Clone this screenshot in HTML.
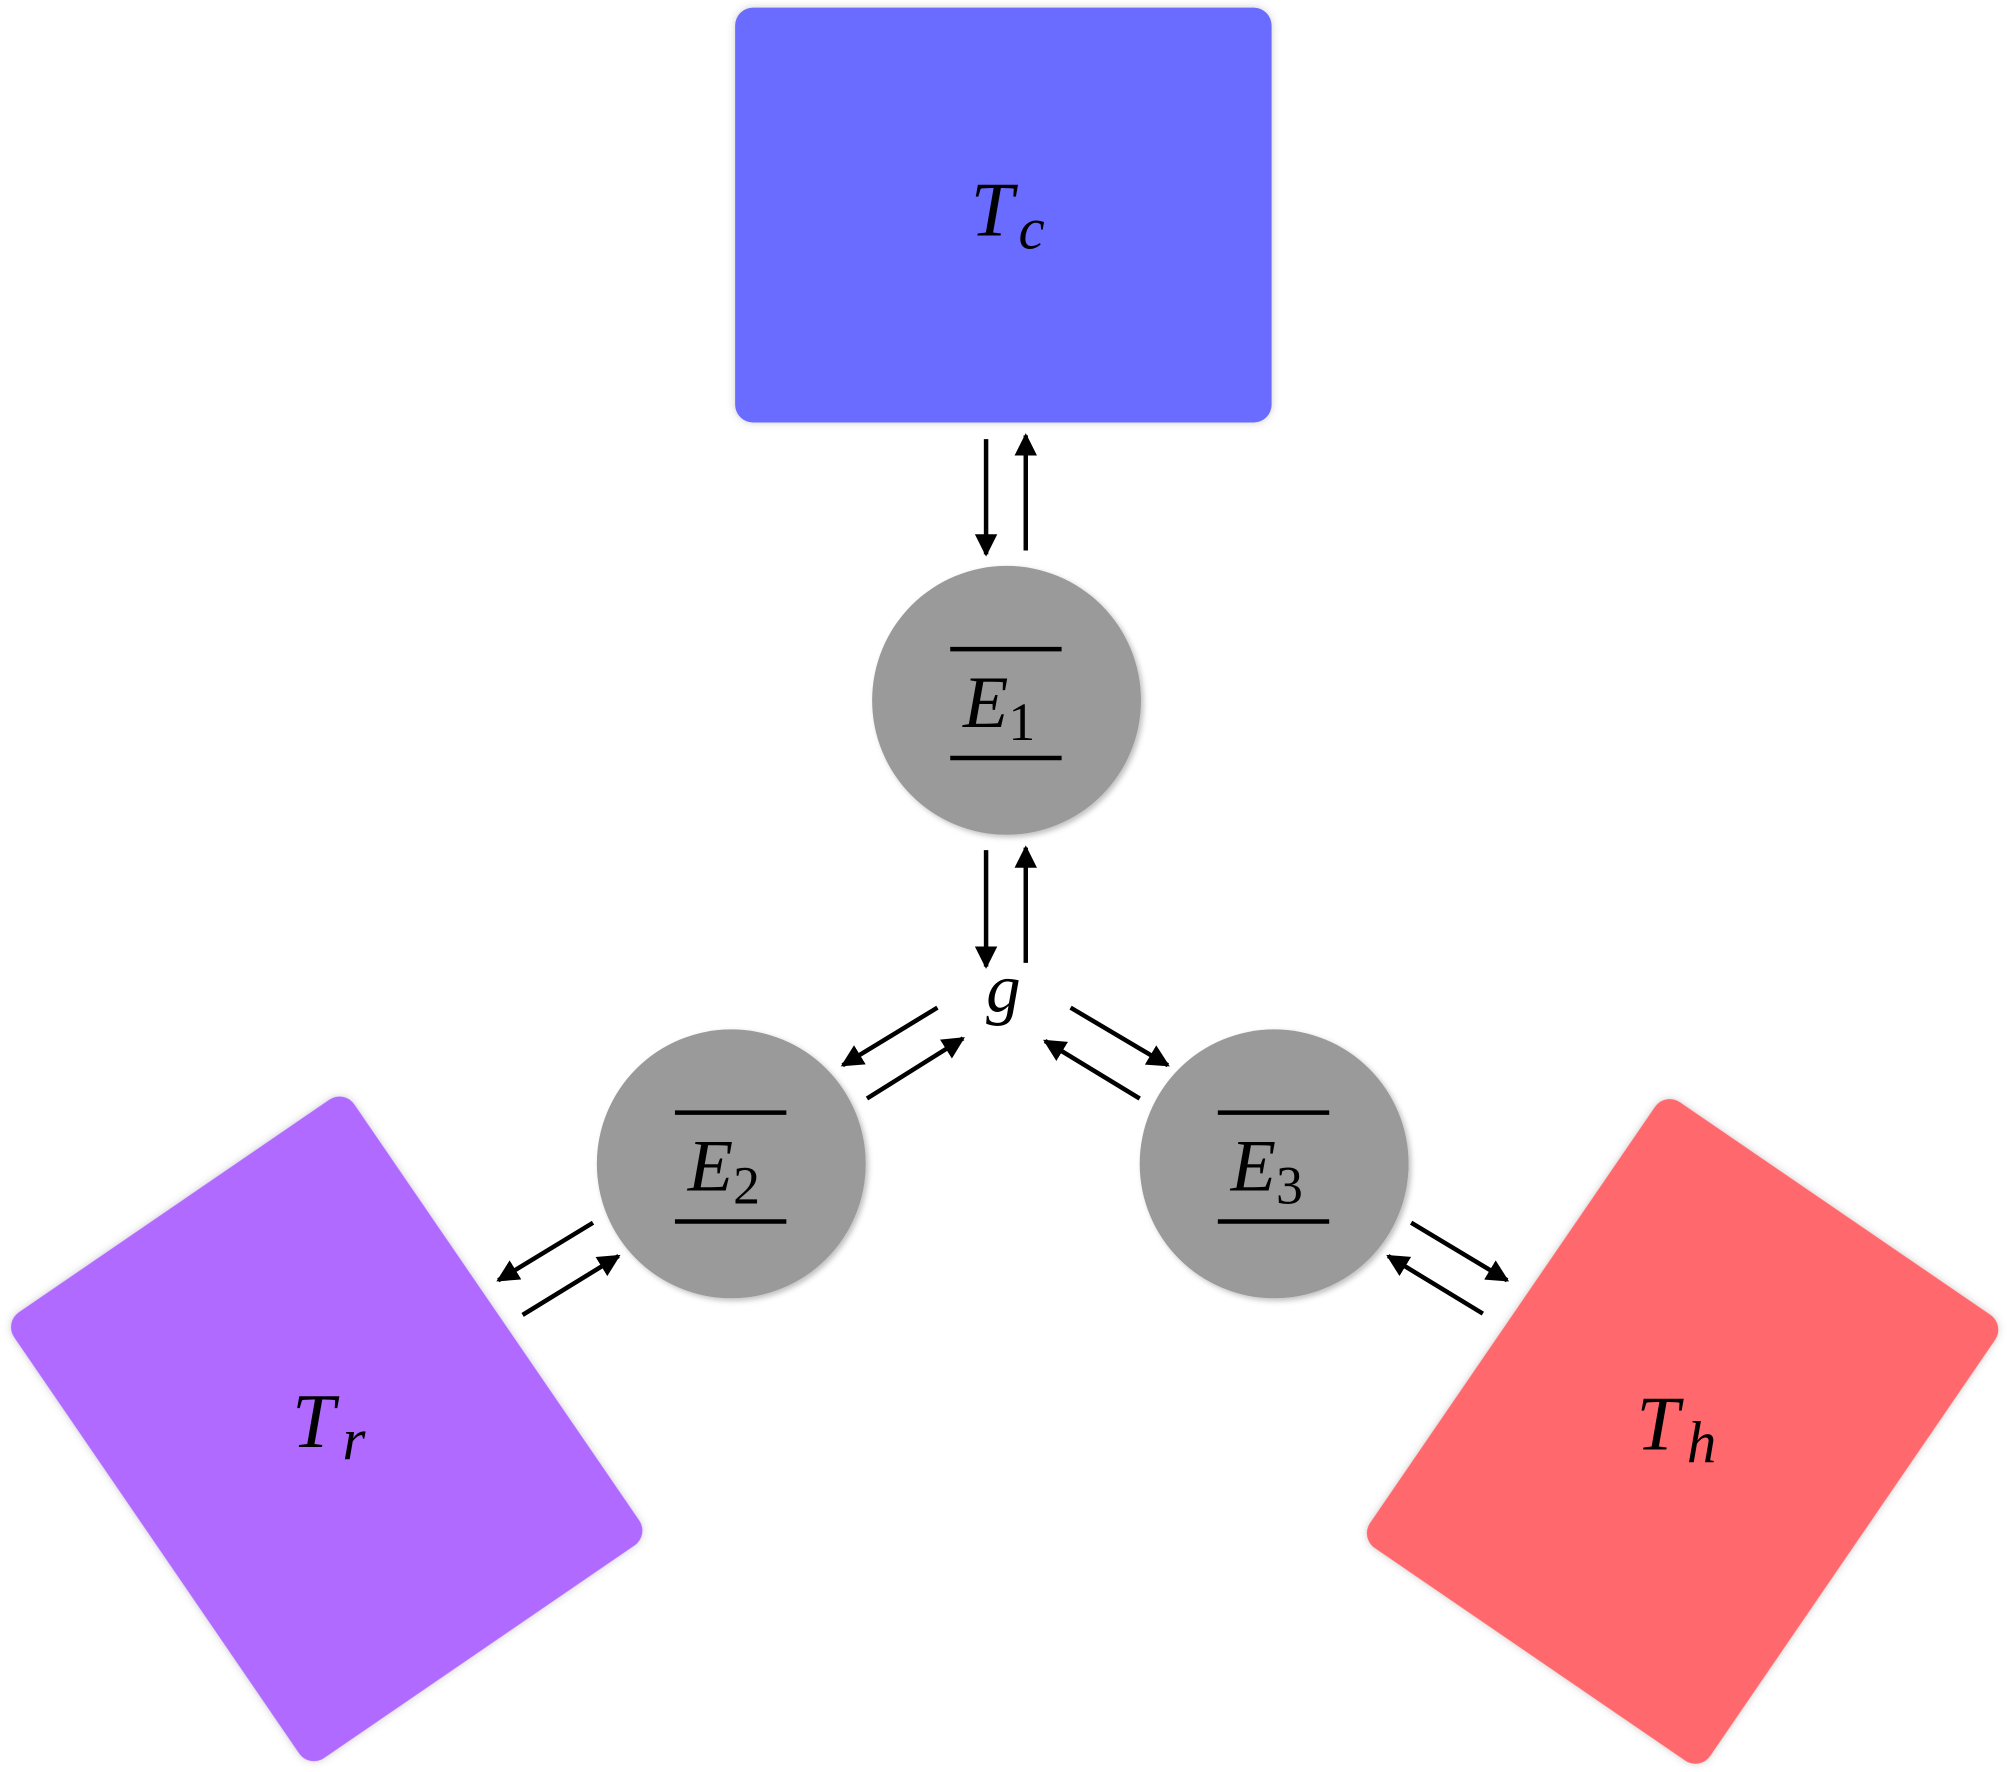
<!DOCTYPE html>
<html><head><meta charset="utf-8"><style>
html,body{margin:0;padding:0;background:#fff;}
svg{display:block;}
text{font-family:"Liberation Serif",serif;font-style:italic;fill:#000;}
</style></head><body>
<svg width="2008" height="1772" viewBox="0 0 1568 1384" xmlns="http://www.w3.org/2000/svg">
<defs>
<marker id="ah" viewBox="0 0 10 10" refX="9" refY="5" markerWidth="5" markerHeight="5" orient="auto">
<path d="M0,0 L10,5 L0,10 z" fill="#000"/></marker>
<filter id="sh" x="-20%" y="-20%" width="140%" height="140%"><feDropShadow dx="2" dy="2" stdDeviation="2" flood-color="#000" flood-opacity="0.25"/></filter>
<filter id="gl" x="-10%" y="-10%" width="120%" height="120%"><feDropShadow dx="0" dy="0" stdDeviation="3" flood-color="#555" flood-opacity="0.3"/></filter>
</defs>
<rect x="574" y="6" width="419" height="324" rx="14" fill="#6a6cff" filter="url(#gl)"/>
<text x="758" y="184" font-size="60">T<tspan font-size="46" dx="4" dy="10">c</tspan></text>
<g transform="translate(255,1116) rotate(-34.4)">
<rect x="-161" y="-211" width="322" height="422" rx="14" fill="#b06bff" filter="url(#gl)"/>
</g>
<text x="228" y="1130" font-size="60">T<tspan font-size="46" dx="6" dy="10">r</tspan></text>
<g transform="translate(1314,1118) rotate(34.4)">
<rect x="-161" y="-211" width="322" height="422" rx="14" fill="#ff686c" filter="url(#gl)"/>
</g>
<text x="1278" y="1132" font-size="60">T<tspan font-size="46" dx="6" dy="10">h</tspan></text>
<circle cx="786" cy="547" r="105" fill="#9a9a9a" filter="url(#sh)"/>
<circle cx="571" cy="909" r="105" fill="#9a9a9a" filter="url(#sh)"/>
<circle cx="995" cy="909" r="105" fill="#9a9a9a" filter="url(#sh)"/>
<g stroke="#000" stroke-width="3.5">
<line x1="742" y1="507" x2="829" y2="507"/><line x1="742" y1="592" x2="829" y2="592"/>
<line x1="527" y1="869" x2="614" y2="869"/><line x1="527" y1="954" x2="614" y2="954"/>
<line x1="951" y1="869" x2="1038" y2="869"/><line x1="951" y1="954" x2="1038" y2="954"/>
</g>
<text x="752" y="568" font-size="58">E<tspan font-size="42" dy="10" font-style="normal">1</tspan></text>
<text x="537" y="930" font-size="58">E<tspan font-size="42" dy="10" font-style="normal">2</tspan></text>
<text x="961" y="930" font-size="58">E<tspan font-size="42" dy="10" font-style="normal">3</tspan></text>
<text x="770" y="790" font-size="54">g</text>
<g stroke="#000" stroke-width="3.5" marker-end="url(#ah)">
<line x1="770" y1="343" x2="770" y2="433"/>
<line x1="801" y1="430" x2="801" y2="340"/>
<line x1="770" y1="664" x2="770" y2="755"/>
<line x1="801" y1="752" x2="801" y2="662"/>
<line x1="732" y1="787" x2="658" y2="832"/>
<line x1="677" y1="858" x2="752" y2="811"/>
<line x1="836" y1="787" x2="912" y2="832"/>
<line x1="890" y1="858" x2="816" y2="813"/>
<line x1="463" y1="955" x2="389" y2="1000"/>
<line x1="408" y1="1027" x2="483" y2="981"/>
<line x1="1102" y1="955" x2="1177" y2="1000"/>
<line x1="1158" y1="1026" x2="1084" y2="981"/>
</g>
</svg>
</body></html>
